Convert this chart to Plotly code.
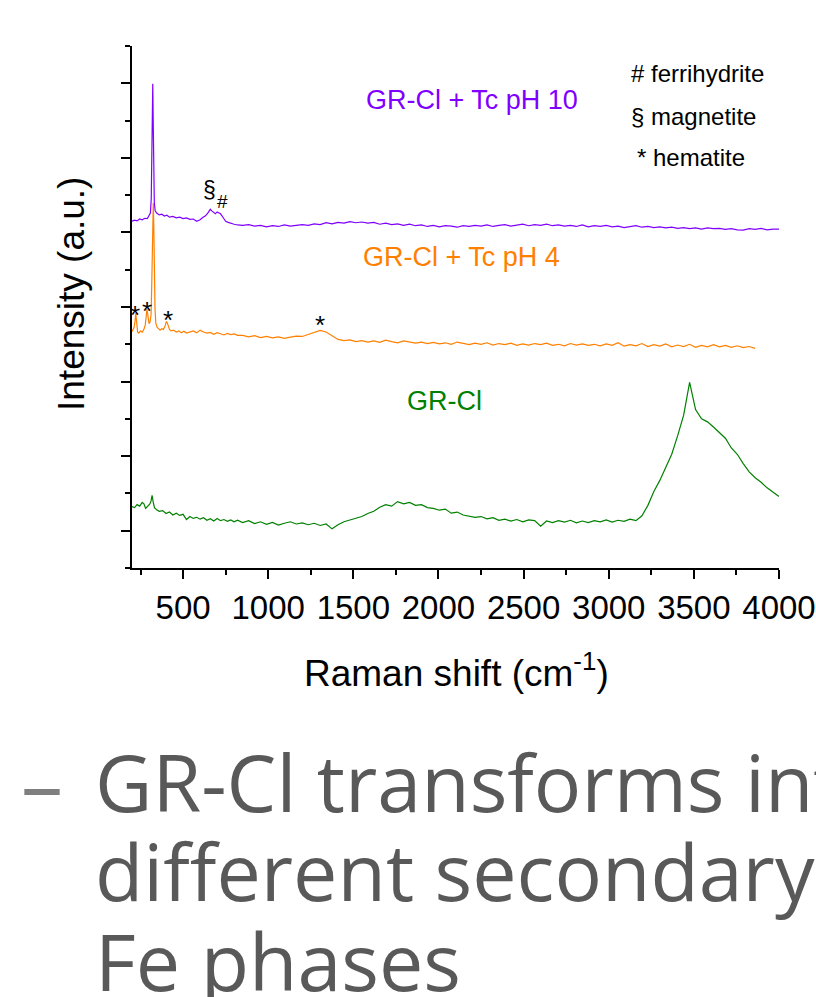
import plotly.graph_objects as go

# ---------------- data (Raman shift in cm-1, intensity in stacked arbitrary units) -------------
PH10_X_HEAD = [200, 215, 230, 245, 260, 275, 290, 300, 308, 313,
               317, 320, 322, 324, 327, 331, 336, 345, 360, 375,
               390, 405, 420, 440, 460, 480, 500, 520, 540, 560,
               580, 600, 615, 630, 645, 660, 670, 680, 690, 700,
               710, 720, 735, 750, 765, 780, 800, 820]
PH10_Y_HEAD = [9.30, 9.33, 9.31, 9.36, 9.34, 9.38, 9.37, 9.45, 9.52, 9.90,
               11.2, 12.6, 12.99, 12.2, 10.6, 9.80, 9.58, 9.52, 9.47, 9.49,
               9.44, 9.46, 9.41, 9.43, 9.39, 9.41, 9.37, 9.39, 9.35, 9.36,
               9.30, 9.34, 9.40, 9.44, 9.52, 9.62, 9.57, 9.54, 9.50, 9.55,
               9.53, 9.50, 9.40, 9.30, 9.27, 9.24, 9.22, 9.20]
PH10_Y_TAIL = [9.19, 9.21, 9.17, 9.19, 9.15, 9.18, 9.16, 9.20, 9.17, 9.19,
               9.21, 9.19, 9.23, 9.21, 9.26, 9.23, 9.27, 9.25, 9.29, 9.26,
               9.28, 9.25, 9.27, 9.22, 9.25, 9.21, 9.23, 9.19, 9.22, 9.18,
               9.20, 9.16, 9.19, 9.15, 9.18, 9.17, 9.14, 9.18, 9.16, 9.19,
               9.17, 9.20, 9.16, 9.19, 9.21, 9.17, 9.20, 9.22, 9.18, 9.21,
               9.19, 9.22, 9.18, 9.20, 9.17, 9.19, 9.16, 9.20, 9.15, 9.18,
               9.16, 9.19, 9.15, 9.17, 9.13, 9.16, 9.18, 9.14, 9.16, 9.13,
               9.15, 9.12, 9.14, 9.11, 9.13, 9.10, 9.12, 9.09, 9.12, 9.10,
               9.11, 9.08, 9.10, 9.07, 9.06, 9.10, 9.08, 9.11, 9.07, 9.09,
               9.09]

PH4_X_HEAD = [200, 206, 212, 218, 222, 225, 228, 233, 240, 250,
              260, 270, 278, 284, 288, 291, 295, 300, 306, 312,
              316, 319, 322, 325, 328, 331, 335, 340, 348, 356,
              365, 375, 385, 395, 402, 407, 412, 420, 430, 445,
              460, 475, 490, 505, 520, 540, 560, 580, 600, 620,
              640, 660, 680, 700, 720, 740, 760, 780, 800, 820]
PH4_Y_HEAD = [6.34, 6.38, 6.45, 6.62, 6.83, 6.70, 6.45, 6.33, 6.30, 6.36,
              6.32, 6.40, 6.52, 6.75, 6.94, 6.85, 6.62, 6.55, 6.60, 6.80,
              7.60, 8.70, 9.50, 9.79, 9.20, 8.00, 6.95, 6.56, 6.45, 6.42,
              6.38, 6.42, 6.40, 6.50, 6.61, 6.58, 6.48, 6.40, 6.36, 6.38,
              6.33, 6.36, 6.31, 6.35, 6.30, 6.33, 6.36, 6.31, 6.38, 6.33,
              6.30, 6.32, 6.27, 6.31, 6.28, 6.25, 6.29, 6.26, 6.28, 6.24]
PH4_Y_TAIL = [6.24, 6.20, 6.23, 6.18, 6.21, 6.17, 6.20, 6.16, 6.19, 6.22,
              6.21, 6.26, 6.32, 6.37, 6.33, 6.22, 6.13, 6.10, 6.12, 6.07,
              6.10, 6.06, 6.09, 6.05, 6.11, 6.07, 6.04, 6.09, 6.06, 6.03,
              6.06, 6.02, 6.05, 6.01, 6.04, 6.00, 6.06, 6.02, 5.99, 6.03,
              6.00, 6.04, 5.98, 6.02, 5.99, 6.03, 5.97, 6.01, 5.98, 6.02,
              5.99, 6.03, 5.97, 6.00, 5.96, 6.02, 5.98, 6.01, 5.97, 6.00,
              5.96, 6.01, 5.97, 6.04, 5.95, 5.99, 5.96, 6.02, 5.94, 5.99,
              5.95, 6.01, 5.93, 5.98, 5.94, 6.00, 5.92, 5.97, 5.93, 5.99,
              5.93, 5.97, 5.92, 5.96, 5.91, 5.94, 5.89]

GRCL_X_HEAD = [200, 215, 230, 245, 260, 270, 280, 295, 305, 312,
               318, 324, 332, 345, 360, 380, 400, 420, 440, 460,
               480, 500, 520, 540, 560, 580, 600, 620, 640, 660,
               680, 700, 720, 740, 760, 780, 800, 820]
GRCL_Y_HEAD = [1.65, 1.62, 1.70, 1.66, 1.76, 1.72, 1.60, 1.68, 1.72, 1.80,
               1.95, 1.78, 1.62, 1.56, 1.52, 1.54, 1.46, 1.50, 1.42, 1.47,
               1.41, 1.44, 1.30, 1.38, 1.33, 1.36, 1.31, 1.35, 1.28, 1.32,
               1.26, 1.33, 1.27, 1.30, 1.25, 1.29, 1.24, 1.28]
GRCL_Y_TAIL = [1.22, 1.27, 1.19, 1.24, 1.17, 1.22, 1.15, 1.20, 1.24, 1.18,
               1.21, 1.16, 1.20, 1.14, 1.18, 1.05, 1.16, 1.24, 1.28, 1.34,
               1.38, 1.46, 1.52, 1.63, 1.70, 1.66, 1.78, 1.72, 1.76, 1.68,
               1.70, 1.62, 1.60, 1.55, 1.58, 1.47, 1.50, 1.42, 1.40, 1.36,
               1.38, 1.32, 1.35, 1.28, 1.31, 1.26, 1.30, 1.24, 1.29, 1.27,
               1.12, 1.26, 1.22, 1.27, 1.23, 1.28, 1.21, 1.26, 1.22, 1.27,
               1.24, 1.29, 1.23, 1.28, 1.25, 1.31, 1.27, 1.40, 1.68, 2.05,
               2.35, 2.68, 3.05, 3.55, 4.10, 4.98, 4.25, 4.00, 3.92, 3.78,
               3.62, 3.48, 3.22, 3.05, 2.80, 2.58, 2.42, 2.30, 2.15, 2.04,
               1.92]

TAIL_X = list(range(850, 4001, 35))       # common sampling of the flat region
PH4_TAIL_X = list(range(850, 3861, 35))   # pH 4 spectrum stops at 3860 cm-1

SERIES = [
    ("GR-Cl + Tc pH 10", PH10_X_HEAD + TAIL_X, PH10_Y_HEAD + PH10_Y_TAIL, "#8000FF"),
    ("GR-Cl + Tc pH 4", PH4_X_HEAD + PH4_TAIL_X, PH4_Y_HEAD + PH4_Y_TAIL, "#FF8000"),
    ("GR-Cl", GRCL_X_HEAD + TAIL_X, GRCL_Y_HEAD + GRCL_Y_TAIL, "#008000"),
]

X_TICKS = [500, 1000, 1500, 2000, 2500, 3000, 3500, 4000]
Y_MAJOR = [1, 3, 5, 7, 9, 11, 13]

# labels: (text, x, y, colour, size)
SERIES_LABELS = [
    ("GR-Cl + Tc pH 10", 2195, 12.55, "#8000FF", 27),
    ("GR-Cl + Tc pH 4", 2137, 8.35, "#FF8000", 27),
    ("GR-Cl", 2037, 4.49, "#008000", 27),
]
KEY_LABELS = [
    ("# ferrihydrite", 3519, 13.26),
    ("§ magnetite", 3496, 12.12),
    ("* hematite", 3484, 11.0),
]
PEAK_MARKS = [
    ("§", 655, 10.13, 23),
    ("#", 730, 9.84, 19),
    ("*", 220, 6.78, 26),
    ("*", 289, 6.89, 26),
    ("*", 412, 6.66, 26),
    ("*", 1304, 6.51, 26),
]
SLIDE_LINES = ["GR-Cl transforms into", "different secondary", "Fe phases"]

# ---------------- figure ----------------
W, H = 816, 997
L, R, T, B = 132, 37, 46, 429
PW, PH = W - L - R, H - T - B


def px(xp):
    return (xp - L) / PW


def py(yp):
    return (H - B - yp) / PH


FONT = "Arial, Liberation Sans, sans-serif"
fig = go.Figure()
for name, xs, ys, col in SERIES:
    n = min(len(xs), len(ys))
    fig.add_trace(go.Scatter(x=xs[:n], y=ys[:n], mode="lines", name=name,
                             line=dict(color=col, width=1.2), showlegend=False))

ax_common = dict(showline=True, linecolor="black", linewidth=2, showgrid=False,
                 zeroline=False, tickcolor="black", tickwidth=2, automargin=False)
fig.update_layout(
    width=W, height=H, autosize=False,
    margin=dict(l=L, r=R, t=T, b=B),
    paper_bgcolor="white", plot_bgcolor="white",
    font=dict(family=FONT, color="black"),
    xaxis=dict(range=[200, 4000], tickvals=X_TICKS, ticks="outside", ticklen=9,
               tickfont=dict(size=33, family=FONT, color="black"),
               minor=dict(dtick=250, tick0=0, ticks="outside", ticklen=5,
                          tickwidth=2, tickcolor="black"),
               **ax_common),
    xaxis2=dict(range=[200, 4000], overlaying="x", side="top", anchor="y",
                tickvals=X_TICKS, ticks="inside", ticklen=9, showticklabels=False,
                minor=dict(dtick=250, tick0=0, ticks="inside", ticklen=5,
                           tickwidth=2, tickcolor="black"),
                **ax_common),
    yaxis=dict(range=[0, 14], tickvals=Y_MAJOR, ticks="outside", ticklen=9,
               showticklabels=False,
               minor=dict(dtick=1, tick0=0, ticks="outside", ticklen=5,
                          tickwidth=2, tickcolor="black"),
               **ax_common),
    yaxis2=dict(range=[0, 14], overlaying="y", side="right", anchor="x",
                tickvals=Y_MAJOR, ticks="inside", ticklen=9, showticklabels=False,
                minor=dict(dtick=1, tick0=0, ticks="inside", ticklen=5,
                           tickwidth=2, tickcolor="black"),
                **ax_common),
)

ann = []
for text, x, y, col, size in SERIES_LABELS:
    ann.append(dict(x=x, y=y, xref="x", yref="y", text=text, showarrow=False,
                    font=dict(size=size, color=col, family=FONT),
                    xanchor="center", yanchor="middle"))
for text, x, y in KEY_LABELS:
    ann.append(dict(x=x, y=y, xref="x", yref="y", text=text, showarrow=False,
                    font=dict(size=24, color="black", family=FONT),
                    xanchor="center", yanchor="middle"))
for text, x, y, size in PEAK_MARKS:
    ann.append(dict(x=x, y=y, xref="x", yref="y", text=text, showarrow=False,
                    font=dict(size=size, color="black", family=FONT),
                    xanchor="center", yanchor="middle"))

# axis titles
ann.append(dict(x=px(456), y=py(670), xref="paper", yref="paper",
                text="Raman shift (cm<sup>-1</sup>)", showarrow=False,
                font=dict(size=37, color="black", family=FONT),
                xanchor="center", yanchor="middle"))
ann.append(dict(x=px(71), y=py(294), xref="paper", yref="paper",
                text="Intensity (a.u.)", showarrow=False, textangle=-90,
                font=dict(size=37, color="black", family=FONT),
                xanchor="center", yanchor="middle"))

# slide text below the chart
SLIDE_FONT = "Open Sans, Lato, sans-serif"
ann.append(dict(x=px(19), y=py(782), xref="paper", yref="paper", text="–",
                showarrow=False, font=dict(size=84, color="#7F7F7F", family=SLIDE_FONT),
                xanchor="left", yanchor="middle"))
for line, mid in zip(SLIDE_LINES, [781, 870, 960]):
    ann.append(dict(x=px(93), y=py(mid), xref="paper", yref="paper", text=line,
                    showarrow=False, font=dict(size=79, color="#595959",
                                               family=SLIDE_FONT),
                    xanchor="left", yanchor="middle"))

fig.update_layout(annotations=ann)
fig.write_html("out.html")
